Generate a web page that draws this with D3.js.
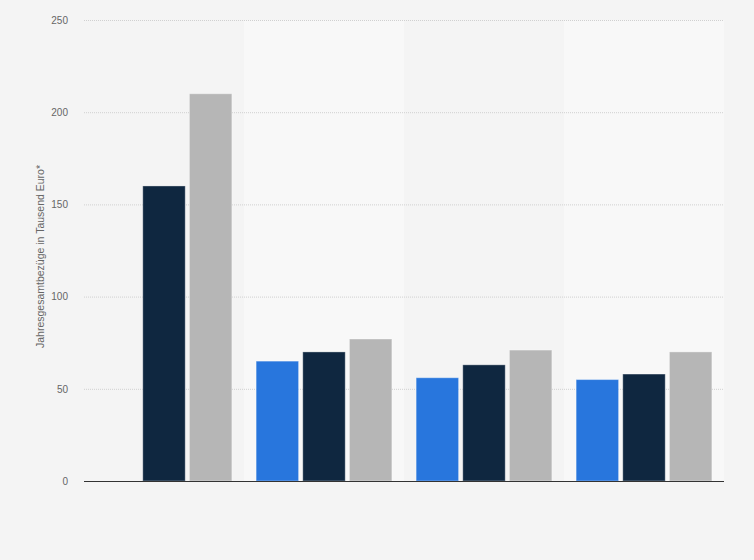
<!DOCTYPE html>
<html>
<head>
<meta charset="utf-8">
<script src="https://cdn.jsdelivr.net/npm/d3@7"></script>
<style>
  body { margin: 0; background: #f4f4f4; }
  svg { display: block; font-family: "Liberation Sans", Arial, sans-serif; }
  .tick text { fill: #666; font-size: 10px; }
  .grid line { stroke: #d0d0d0; stroke-dasharray: 1,1; }
</style>
</head>
<body>
<svg width="754" height="560"></svg>
<script>
var groups = ["G1", "G2", "G3", "G4"],
    series = ["s1", "s2", "s3"],
    colors = ["#2876dd", "#0f2740", "#b6b6b6"];

// one array per series, null = no bar
var s1 = [null, 65, 56, 55],
    s2 = [160, 70, 63, 58],
    s3 = [210, 77, 71, 70];

var yTicks = [0, 50, 100, 150, 200, 250];

var svg = d3.select("svg"),
    margin = {top: 20, right: 30, bottom: 79, left: 84},
    width = 754 - margin.left - margin.right,
    height = 560 - margin.top - margin.bottom;

var values = [s1, s2, s3];

var g = svg.append("g")
    .attr("transform", "translate(" + margin.left + "," + margin.top + ")");

var x0 = d3.scaleBand().domain(groups).range([0, width]);
var x1 = d3.scaleBand().domain(series).range([0, x0.bandwidth()])
    .paddingInner(0.09).paddingOuter(0.26);
var y = d3.scaleLinear().domain([0, 250]).range([height, 0]);

// alternating column bands
g.selectAll(".band")
    .data(groups.filter(function(d, i) { return i % 2 == 1; }))
  .enter().append("rect")
    .attr("class", "band")
    .attr("x", function(d) { return x0(d); })
    .attr("y", 0)
    .attr("width", x0.bandwidth())
    .attr("height", height)
    .style("fill", "#f8f8f8");

var grid = g.append("g")
    .attr("class", "grid")
    .call(d3.axisLeft(y).tickValues(yTicks).tickSize(-width).tickFormat(""));
grid.select(".domain").remove();
grid.selectAll("line").filter(function(d) { return d == 0; }).remove();

var yAxis = g.append("g")
    .call(d3.axisLeft(y).tickValues(yTicks).tickSize(0).tickPadding(16));
yAxis.select(".domain").remove();

var group = g.selectAll(".group")
    .data(groups)
  .enter().append("g")
    .attr("class", "group")
    .attr("transform", function(d) { return "translate(" + x0(d) + ",0)"; });

group.selectAll("rect")
    .data(function(d, i) {
      return series.map(function(s, j) { return {s: s, j: j, v: values[j][i]}; })
        .filter(function(e) { return e.v != null; });
    })
  .enter().append("rect")
    .attr("x", function(d) { return x1(d.s); })
    .attr("y", function(d) { return y(d.v); })
    .attr("width", x1.bandwidth())
    .attr("height", function(d) { return height - y(d.v); })
    .style("fill", function(d) { return colors[d.j]; })
    .style("stroke", "rgba(255,255,255,0.35)")
    .style("stroke-width", 1);

g.append("line")
    .attr("x1", 0)
    .attr("x2", width)
    .attr("y1", height + 0.5)
    .attr("y2", height + 0.5)
    .style("stroke", "#333")
    .style("stroke-width", 1.2);

svg.append("text")
    .attr("transform", "translate(44," + (margin.top + height / 2 + 6) + ")rotate(-90)")
    .attr("text-anchor", "middle")
    .style("font-size", "10.5px")
    .style("fill", "#666")
    .text("Jahresgesamtbezüge in Tausend Euro*");
</script>
</body>
</html>
